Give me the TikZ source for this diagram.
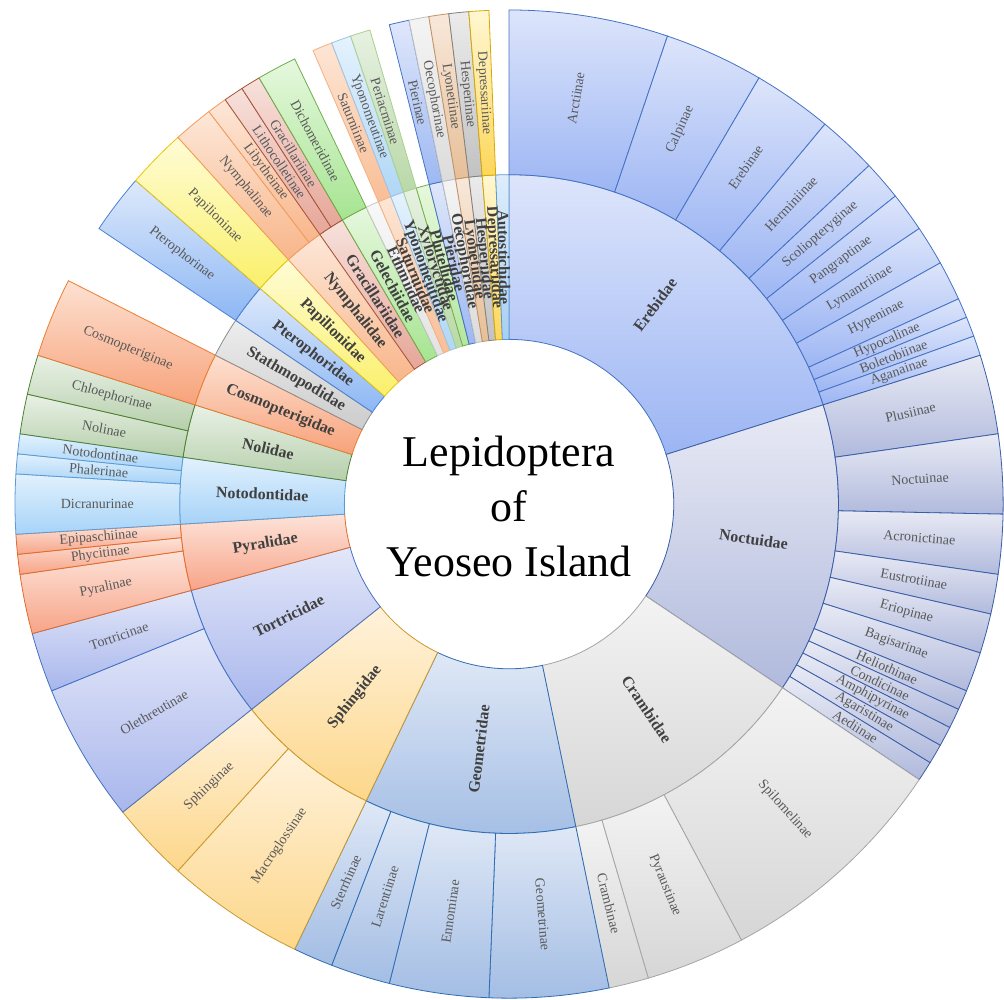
\documentclass[tikz,border=0pt]{standalone}
\usepackage{fontspec}
\setmainfont{Liberation Serif}
\usepackage{xcolor}
\usepackage{tikz}
\pgfdeclarelayer{bg}
\pgfsetlayers{bg,main}
\newcommand{\famcolors}[4]{%
  \definecolor{#1top}{HTML}{#2}%
  \definecolor{#1bot}{HTML}{#3}%
  \definecolor{#1line}{HTML}{#4}}
\famcolors{ereb}{DDE5FB}{9CB5F3}{4472C4}
\famcolors{noct}{E8EAF4}{B1BADD}{3A5DA8}
\famcolors{cramb}{F3F3F3}{D6D6D6}{A5A5A5}
\famcolors{geom}{DFE8F6}{A3BDE4}{2E6DB4}
\famcolors{sphin}{FFF2DC}{FDD78A}{C99A2E}
\famcolors{tort}{E3E7F9}{A8B6EC}{4472C4}
\famcolors{pyral}{FDE3D9}{F7A488}{E06A2A}
\famcolors{noto}{E2F1FD}{A6D3F8}{5B9BD5}
\famcolors{nolid}{E9F1E6}{B6CFAB}{4E7F32}
\famcolors{cosmo}{FDE1D2}{F7A27A}{ED7D31}
\famcolors{stath}{EDEDED}{CCCCCC}{8C8C8C}
\famcolors{ptero}{DDE9FB}{8DB7F4}{4A80D3}
\famcolors{papil}{FFFCD6}{FAF06A}{E8C60A}
\famcolors{nymph}{FDE7D8}{F8B68A}{F29A5D}
\famcolors{graci}{F7E1DC}{E6A698}{A5553A}
\famcolors{gelec}{E6F8DE}{A6E491}{6DAE4A}
\famcolors{ethm}{F8F8F8}{E3E3E3}{C8C8C8}
\famcolors{satur}{FDE6D5}{F9BE96}{F4B183}
\famcolors{ypono}{E4F2FD}{B0D7F6}{9DC3E6}
\famcolors{xylor}{E7F1E2}{B9D8A8}{A9D18E}
\famcolors{plute}{E6F8DC}{B4E69F}{70AD47}
\famcolors{pieri}{DFE7FB}{9DB8F2}{4472C4}
\famcolors{oecop}{F4F4F4}{DCDCDC}{BFBFBF}
\famcolors{lyone}{F8E8DA}{E6BF98}{C09060}
\famcolors{hespe}{EBEBEB}{C2C2C2}{808080}
\famcolors{depre}{FFF7D1}{FDD75C}{D9A800}
\famcolors{autos}{DEEDFB}{A8CFF3}{5B9BD5}
\definecolor{famgray}{HTML}{404040}
\definecolor{subgray}{HTML}{595959}
\newcommand{\unitang}{2.337662}
\tikzset{
  seg/.style={top color=#1top,bottom color=#1bot,draw=#1line,line width=0.6pt},
  famlabel/.style={font=\bfseries\fontsize{12}{14}\selectfont,text=famgray,inner sep=0pt},
  sublabel/.style={font=\fontsize{10.5}{12}\selectfont,text=subgray,inner sep=0pt},
  titletext/.style={font=\fontsize{33}{41.25}\selectfont,align=center,inner sep=0pt}
}
\begin{document}
\begin{tikzpicture}[x=0.75pt,y=0.75pt]
\begin{pgfonlayer}{bg}
\path[use as bounding box,fill=white] (-510,-496) rectangle (494,505);
\end{pgfonlayer}
\foreach \nm/\ua/\ub/\col in {Erebidae/0/31/ereb,Noctuidae/31/53/noct,Crambidae/53/72/cramb,
  Geometridae/72/88/geom,Sphingidae/88/99/sphin,Tortricidae/99/109/tort,Pyralidae/109/114/pyral,
  Notodontidae/114/119/noto,Nolidae/119/123/nolid,Cosmopterigidae/123/127/cosmo,
  Stathmopodidae/127/130/stath,Pterophoridae/130/133/ptero,Papilionidae/133/136/papil,
  Nymphalidae/136/139/nymph,Gracillariidae/139/141/graci,Gelechiidae/141/143/gelec,
  Ethmiidae/143/144/ethm,Saturniidae/144/145/satur,Yponomeutidae/145/146/ypono,
  Xyloryctidae/146/147/xylor,Plutellidae/147/148/plute,Pieridae/148/149/pieri,
  Oecophoridae/149/150/oecop,Lyonetiidae/150/151/lyone,Hesperiidae/151/152/hespe,
  Depressariidae/152/153/depre,Autostichidae/153/154/autos}{
  \pgfmathsetmacro\ta{90-\ua*\unitang}
  \pgfmathsetmacro\tb{90-\ub*\unitang}
  \pgfmathsetmacro\tm{(\ta+\tb)/2}
  \pgfmathsetmacro\rot{cos(\tm)<0 ? \tm+180 : \tm}
  \begin{pgfonlayer}{bg}
  \path[seg=\col] (\ta:165) arc[start angle=\ta,end angle=\tb,radius=165]
    -- (\tb:330) arc[start angle=\tb,end angle=\ta,radius=330] -- cycle;
  \end{pgfonlayer}
  \node[famlabel,rotate=\rot] (f-\nm) at (\tm:247.5) {\nm};
}
\foreach \nm/\ua/\ub/\col in {Arctiinae/0/8/ereb,Calpinae/8/13/ereb,Erebinae/13/17/ereb,
  Herminiinae/17/20/ereb,Scoliopteryginae/20/22/ereb,Pangraptinae/22/24/ereb,
  Lymantriinae/24/26/ereb,Hypeninae/26/28/ereb,Hypocalinae/28/29/ereb,
  Boletobiinae/29/30/ereb,Aganainae/30/31/ereb,
  Plusiinae/31/35/noct,Noctuinae/35/39/noct,Acronictinae/39/42/noct,Eustrotiinae/42/44/noct,
  Eriopinae/44/46/noct,Bagisarinae/46/48/noct,Heliothinae/48/49/noct,Condicinae/49/50/noct,
  Amphipyrinae/50/51/noct,Agaristinae/51/52/noct,Aediinae/52/53/noct,
  Spilomelinae/53/65/cramb,Pyraustinae/65/70/cramb,Crambinae/70/72/cramb,
  Geometrinae/72/78/geom,Ennominae/78/83/geom,Larentiinae/83/86/geom,Sterrhinae/86/88/geom,
  Macroglossinae/88/95/sphin,Sphinginae/95/99/sphin,
  Olethreutinae/99/106/tort,Tortricinae/106/109/tort,
  Pyralinae/109/112/pyral,Phycitinae/112/113/pyral,Epipaschiinae/113/114/pyral,
  Dicranurinae/114/117/noto,Phalerinae/117/118/noto,Notodontinae/118/119/noto,
  Nolinae/119/121/nolid,Chloephorinae/121/123/nolid,
  Cosmopteriginae/123/127/cosmo,Pterophorinae/130/133/ptero,Papilioninae/133/136/papil,
  Nymphalinae/136/138/nymph,Libytheinae/138/139/nymph,
  Lithocolletinae/139/140/graci,Gracillariinae/140/141/graci,Dichomeridinae/141/143/gelec,
  Saturniinae/144/145/satur,Yponomeutinae/145/146/ypono,Periacminae/146/147/xylor,
  Pierinae/148/149/pieri,Oecophorinae/149/150/oecop,Lyonetiinae/150/151/lyone,
  Hesperiinae/151/152/hespe,Depressariinae/152/153/depre}{
  \pgfmathsetmacro\ta{90-\ua*\unitang}
  \pgfmathsetmacro\tb{90-\ub*\unitang}
  \pgfmathsetmacro\tm{(\ta+\tb)/2}
  \pgfmathsetmacro\rot{cos(\tm)<0 ? \tm+180 : \tm}
  \begin{pgfonlayer}{bg}
  \path[seg=\col] (\ta:330) arc[start angle=\ta,end angle=\tb,radius=330]
    -- (\tb:495) arc[start angle=\tb,end angle=\ta,radius=495] -- cycle;
  \end{pgfonlayer}
  \node[sublabel,rotate=\rot] (s-\nm) at (\tm:412.5) {\nm};
}
\node[titletext] (title) at (0,-2) {Lepidoptera\\of\\Yeoseo Island};
\end{tikzpicture}
\end{document}
